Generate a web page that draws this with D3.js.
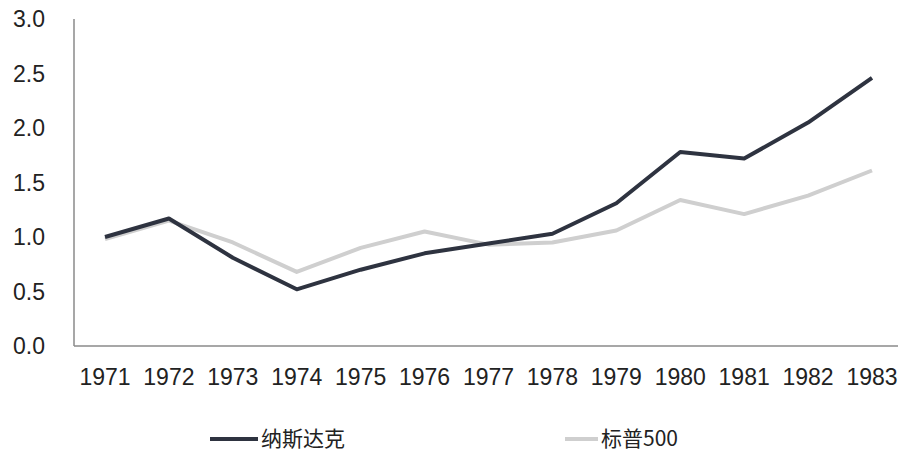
<!DOCTYPE html>
<html>
<head>
<meta charset="utf-8">
<style>
body { margin: 0; background: #fff; }
text { font-family: "Liberation Sans", Arial, sans-serif; fill: #222; }
.legend text { font-family: "Noto Sans CJK SC", "Liberation Sans", sans-serif; }
</style>
</head>
<body>
<svg width="898" height="455"></svg>
<script src="https://d3js.org/d3.v7.min.js"></script>
<script>

// data
var years = ["1971","1972","1973","1974","1975","1976","1977","1978","1979","1980","1981","1982","1983"];
var nasdaq = [1.00, 1.17, 0.81, 0.52, 0.70, 0.85, 0.94, 1.03, 1.31, 1.78, 1.72, 2.05, 2.46];
var sp500 = [0.98, 1.15, 0.95, 0.68, 0.90, 1.05, 0.93, 0.95, 1.06, 1.34, 1.21, 1.38, 1.61];
var yTicks = [0, 0.5, 1.0, 1.5, 2.0, 2.5, 3.0];
var seriesNames = ["纳斯达克", "标普500"];

var svg = d3.select("svg");

var x = d3.scalePoint().domain(years).range([105, 872]);
var y = d3.scaleLinear().domain([0, 3]).range([346, 19]);

var colors = ["#2e3340", "#cfcfcf"];

// y axis
svg.append("line")
  .attr("x1", 74).attr("x2", 74)
  .attr("y1", y(3)).attr("y2", y(0))
  .attr("stroke", "#8a8a8a").attr("stroke-width", 1.5);
svg.append("line")
  .attr("x1", 74).attr("x2", 898)
  .attr("y1", y(0)).attr("y2", y(0))
  .attr("stroke", "#8a8a8a").attr("stroke-width", 1.5);

svg.append("g").selectAll("text")
  .data(yTicks)
  .enter().append("text")
    .attr("x", 45)
    .attr("y", function(d) { return y(d); })
    .attr("dy", "0.36em")
    .attr("text-anchor", "end")
    .style("font-size", "23px")
    .text(function(d) { return d3.format(".1f")(d); });

svg.append("g").selectAll("text")
  .data(years)
  .enter().append("text")
    .attr("x", function(d) { return x(d); })
    .attr("y", 385)
    .attr("text-anchor", "middle")
    .style("font-size", "23px")
    .text(function(d) { return d; });

var line = d3.line()
  .x(function(d, i) { return x(years[i]); })
  .y(function(d) { return y(d); });

// light series first so the dark one is on top
[sp500, nasdaq].forEach(function(s, k) {
  svg.append("path")
    .datum(s)
    .attr("fill", "none")
    .attr("stroke", k === 0 ? colors[1] : colors[0])
    .attr("stroke-width", 4)
    .attr("stroke-linejoin", "round")
    .attr("d", line);
});

// legend
var legend = svg.append("g").attr("class", "legend");
var legendPos = [{x1: 210, x2: 258}, {x1: 565, x2: 598}];
seriesNames.forEach(function(name, i) {
  legend.append("line")
    .attr("x1", legendPos[i].x1).attr("x2", legendPos[i].x2)
    .attr("y1", 439).attr("y2", 439)
    .attr("stroke", colors[i]).attr("stroke-width", 4);
  legend.append("text")
    .attr("x", legendPos[i].x2 + 3)
    .attr("y", 439)
    .attr("dy", "0.35em")
    .style("font-size", "21px")
    .text(name);
});

</script>
</body>
</html>
